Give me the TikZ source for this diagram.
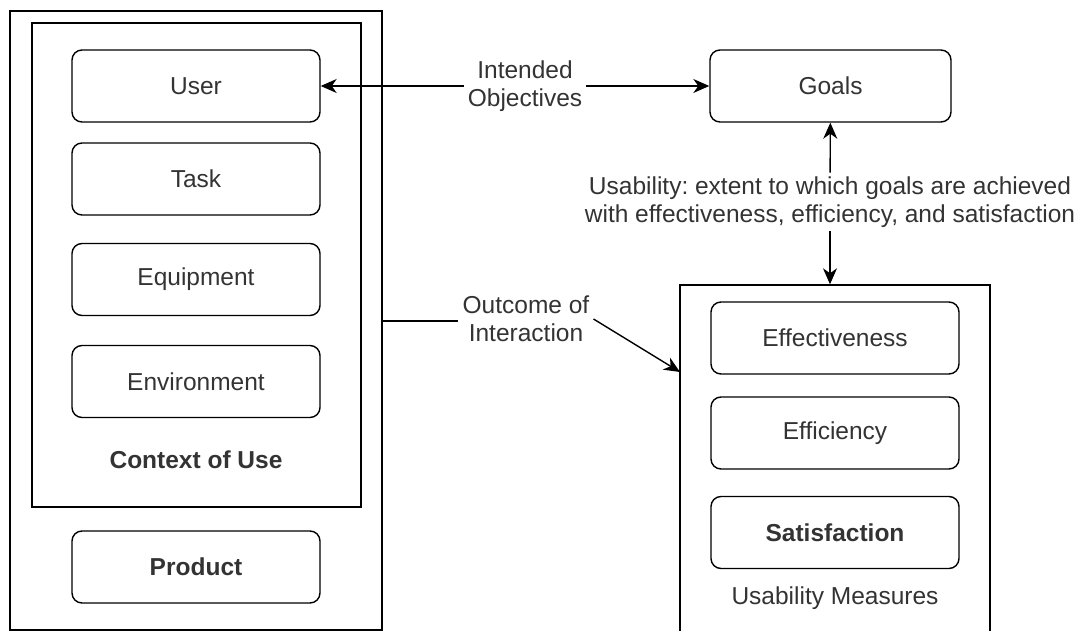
\documentclass[tikz,border=0pt]{standalone}
\usepackage{fontspec}
\setmainfont{Liberation Sans}
\usetikzlibrary{arrows.meta}
\frenchspacing
\begin{document}
\begin{tikzpicture}
		[x=1pt, y=-1pt,
		every node/.style={font=\fontsize{24.5}{27.5}\selectfont, text=black!80},
		frame/.style={
			rectangle,
			draw,
			line width=1.4pt,
			inner sep=0pt
		},
		item/.style={rectangle,rounded corners=10pt,draw,line width=1.4pt,inner sep=0pt,minimum width=248pt,minimum height=72pt},
		caption/.style={align=center, inner sep=4pt},
		link/.style={line width=1.4pt, -{Stealth[length=16pt,width=14pt,inset=5pt]}}]
		\path[use as bounding box, clip] (0,0) rectangle (1092,631);
		% left side
		\node[frame, minimum width=372pt, minimum height=619pt] (sys) at (196,320.5) {};
		\node[frame, minimum width=329pt, minimum height=484pt] (ctx) at (196.5,265) {};
		\node[item] (user) at (196,86) {User};
		\node[item] (task) at (196,179) {Task};
		\node[item] (equip) at (196,279.5) {Equipment};
		\node[item] (env) at (196,381.5) {Environment};
		\node (ctxlabel) at (196,460) {\bfseries Context of Use};
		\node[item] (product) at (196,567) {\bfseries Product};
		% right side
		\node[item, minimum width=241pt] (goals) at (830.5,86) {Goals};
		\node[frame, minimum width=310pt, minimum height=370pt] (measures) at (835,470) {};
		\node[item] (effect) at (835,338) {Effectiveness};
		\node[item] (effic) at (835,433) {Efficiency};
		\node[item] (satis) at (835,532.5) {\bfseries Satisfaction};
		\node (measlabel) at (835,598) {Usability Measures};
		% labels and links
		\node[caption] (intended) at (525,86) {Intended\\Objectives};
		\draw[link] (intended) -- (user);
		\draw[link] (intended) -- (goals);
		\node[caption] (usab) at (830,202) {Usability: extent to which goals are achieved\\with effectiveness, efficiency, and satisfaction};
		\draw[link] (usab) -- (goals);
		\draw[link] (usab) -- (usab |- measures.north);
		\node[caption] (outcome) at (526,319) {Outcome of\\Interaction};
		\coordinate (landing) at (680,372);
		\draw[line width=1.4pt] (sys.east |- 0,321) -- (outcome.west |- 0,321);
		\draw[link] (outcome.east) -- (landing);
\end{tikzpicture}
\end{document}
